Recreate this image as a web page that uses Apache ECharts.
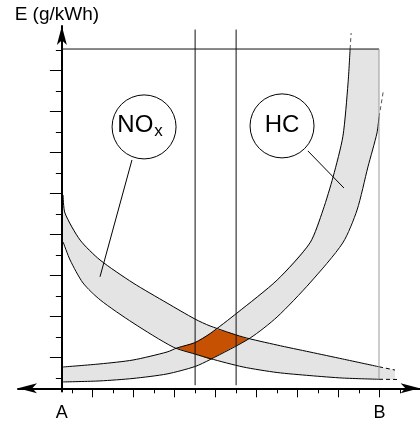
<!DOCTYPE html>
<html>
<head>
<meta charset="utf-8">
<script src="https://cdn.jsdelivr.net/npm/echarts@6/dist/echarts.min.js"></script>
<style>
  html, body { margin: 0; padding: 0; background: #fff; }
  #main { width: 420px; height: 421px; }
</style>
</head>
<body>
<div id="main"></div>
<script>
// units: one axis step = spacing between two neighbouring ticks
const noxUpper = [[0.06, 9.43], [0.15, 8.55], [0.89, 7.23], [1.86, 6.26], [3.47, 5.14], [5.13, 4.16], [6.49, 3.38], [7.23, 3.04], [8.84, 2.50], [10.5, 2.11], [12.1, 1.77], [13.7, 1.43], [15.47, 1.05]]
const noxLower = [[0.06, 7.14], [0.4, 6.26], [1.03, 5.14], [1.87, 4.31], [3.47, 3.19], [5.43, 2.01], [6.49, 1.67], [7.23, 1.45], [8.84, 1.04], [10.5, 0.77], [12.1, 0.62], [13.7, 0.50], [15.47, 0.44]]
const noxUpperDash = [[15.47, 1.05], [16.25, 0.89]]
const noxLowerDash = [[15.47, 0.44], [16.4, 0.43]]
const noxFillEnd = [[16.25, 0.89], [16.25, 0.43]]

const hcInner = [[0.06, 1.04], [1.86, 1.19], [3.47, 1.38], [5.13, 1.77], [5.62, 1.97], [6.49, 2.23], [7.23, 2.67], [8.54, 3.67], [10.5, 5.28], [12.1, 7.09], [12.74, 8.70], [13.23, 10.31], [13.71, 12.3], [13.96, 14.89], [14.06, 16.55]]
const hcOuter = [[0.06, 0.31], [1.86, 0.36], [3.47, 0.48], [5.13, 0.70], [6.49, 1.06], [7.23, 1.40], [9.18, 2.45], [10.5, 3.48], [12.1, 5.14], [13.7, 7.09], [14.4, 8.70], [14.93, 10.80], [15.37, 12.45], [15.47, 13.23]]
const hcInnerDash = [[14.06, 16.55], [14.11, 17.33]]
const hcOuterDash = [[15.47, 13.23], [15.69, 14.55]]
const hcFillCorner = [[15.47, 16.55]]

// overlap of both bands
const orangeZone = [[5.60, 1.95], [6.50, 2.23], [7.23, 2.67], [7.55, 2.88], [8.20, 2.71], [9.10, 2.39], [8.20, 1.93], [7.23, 1.41], [6.50, 1.67]]

const guideX = [6.5, 8.5]
const guideSpan = [0.15, 17.5]
const topLine = [[0, 16.55], [15.47, 16.55]]
const limitLine = [[15.47, 16.55], [15.47, 0.45]]

const bubbleNames = ['{a|NO}{b|x}', 'HC']
const bubblePos = [[4.01, 12.75], [10.74, 12.80]]
const noxPointer = [[3.42, 11.14], [1.86, 5.44]]
const hcPointer = [[12.0, 11.58], [13.76, 9.77]]

const xLabels = ['A', 'B']
const xLabelPos = [0, 15.5]
const longTicks = [1.5, 3.5, 5.5, 7.5, 9.5, 11.5, 13.5, 15.5]
const shortTicksX = [0.5, 2.5, 4.5, 6.5, 8.5, 10.5, 12.5, 14.5, 16.5]
const shortTicksY = [0.5, 2.5, 4.5, 6.5, 8.5, 10.5, 12.5, 14.5, 16.5]

const font = 'Liberation Sans, Arial, Helvetica, sans-serif'

var myChart = echarts.init(document.getElementById('main'))

var polygon = function (points, color, z) {
  return {
    type: 'custom',
    silent: true,
    z: z,
    data: [[0, 0]],
    renderItem: function (params, api) {
      return {
        type: 'polygon',
        shape: { points: points.map(function (p) { return api.coord(p) }) },
        style: { fill: color, stroke: null }
      }
    }
  }
}

var line = function (data, opts) {
  opts = opts || {}
  return {
    type: 'line',
    silent: true,
    showSymbol: false,
    symbol: 'none',
    clip: false,
    z: opts.z || 3,
    smooth: opts.smooth || false,
    data: data,
    lineStyle: {
      color: opts.color || '#000',
      width: opts.width || 1,
      type: opts.dashed ? [4, 3] : 'solid'
    }
  }
}

var noxFill = noxUpper.concat([noxFillEnd[0], noxFillEnd[1]], noxLower.slice().reverse())
var hcFill = hcInner.concat(hcFillCorner, hcOuter.slice().reverse())

var series = [
  polygon(hcFill, '#e4e4e4', 1),
  polygon(noxFill, '#e4e4e4', 1),
  polygon(orangeZone, '#c65102', 2),
  line(noxUpper, { smooth: 0.25 }),
  line(noxLower, { smooth: 0.25 }),
  line(hcInner, { smooth: 0.25 }),
  line(hcOuter, { smooth: 0.25 }),
  line(noxUpperDash, { dashed: true }),
  line(noxLowerDash, { dashed: true }),
  line(hcInnerDash, { dashed: true, color: '#555' }),
  line(hcOuterDash, { dashed: true, color: '#555' }),
  line(topLine, { z: 4, color: '#111' }),
  line(limitLine, { z: 4, color: '#999' }),
  line(noxPointer, { z: 4 }),
  line(hcPointer, { z: 4 })
]
guideX.forEach(function (x) {
  series.push(line([[x, guideSpan[0]], [x, guideSpan[1]]], { z: 4, color: '#111' }))
})
series.push({
  type: 'scatter',
  silent: true,
  z: 6,
  symbolSize: 64,
  data: bubblePos.map(function (p, i) {
    return { value: p, label: { formatter: bubbleNames[i], offset: i === 0 ? [-4, -2] : [0, -1] } }
  }),
  itemStyle: { color: '#fff', borderColor: '#000', borderWidth: 1, opacity: 1 },
  label: {
    show: true,
    position: 'inside',
    color: '#000',
    fontSize: 24,
    fontFamily: font,
    rich: {
      a: { fontSize: 24, fontFamily: font, color: '#000' },
      b: { fontSize: 17, fontFamily: font, color: '#000', padding: [12, 0, 0, 1] }
    }
  }
})

var option = {
  animation: false,
  backgroundColor: '#fff',
  grid: {
    left: 18,
    right: 0.4,
    top: 26.06,
    bottom: 29.625,
    outerBoundsMode: 'none'
  },
  xAxis: [
    {
      type: 'value',
      min: -2.14,
      max: 17.45,
      position: 'bottom',
      splitLine: { show: false },
      axisLine: {
        onZero: true,
        onZeroAxisIndex: 0,
        symbol: ['arrow', 'arrow'],
        symbolSize: [7.5, 19],
        lineStyle: { color: '#000', width: 2 }
      },
      axisTick: { customValues: longTicks, length: 9, lineStyle: { color: '#000', width: 1 } },
      axisLabel: {
        customValues: xLabelPos,
        formatter: function (v) { return xLabels[xLabelPos.indexOf(v)] },
        fontSize: 18,
        fontFamily: font,
        color: '#000',
        margin: 13
      }
    },
    {
      type: 'value',
      min: -2.14,
      max: 17.45,
      position: 'top',
      splitLine: { show: false },
      axisLine: { show: false, onZero: true, onZeroAxisIndex: 0 },
      axisTick: { inside: true, customValues: shortTicksX, length: 5, lineStyle: { color: '#000', width: 1 } },
      axisLabel: { show: false }
    }
  ],
  yAxis: [
    {
      type: 'value',
      min: -0.15,
      max: 17.67,
      position: 'left',
      splitLine: { show: false },
      name: 'E (g/kWh)',
      nameLocation: 'end',
      nameGap: 2,
      nameTextStyle: { fontSize: 19, fontFamily: font, color: '#000', padding: [0, 10, 0, 0] },
      axisLine: {
        onZero: true,
        onZeroAxisIndex: 0,
        symbol: ['none', 'arrow'],
        symbolSize: [7.5, 19],
        lineStyle: { color: '#000', width: 2 }
      },
      axisTick: { customValues: longTicks, length: 12, lineStyle: { color: '#000', width: 1 } },
      axisLabel: { show: false }
    },
    {
      type: 'value',
      min: -0.15,
      max: 17.67,
      position: 'right',
      splitLine: { show: false },
      axisLine: { show: false, onZero: true, onZeroAxisIndex: 0 },
      axisTick: { inside: true, customValues: shortTicksY, length: 6, lineStyle: { color: '#000', width: 1 } },
      axisLabel: { show: false }
    }
  ],
  series: series
}
myChart.setOption(option)
</script>
</body>
</html>
